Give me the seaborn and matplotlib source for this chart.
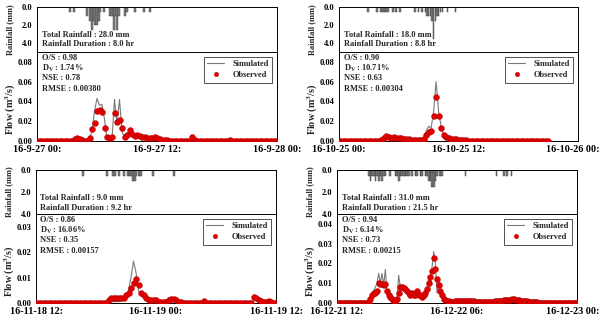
import numpy as np
import pandas as pd
import matplotlib
matplotlib.use("Agg")
import matplotlib.pyplot as plt
import matplotlib.transforms as mtrans
import seaborn as sns
from matplotlib.lines import Line2D

# ---------------- DATA ----------------
# Panel 1: 16-9-27 (15-min steps from 00:00)
obs1 = [0, 0, 0, 0, 0, 0, 0, 0, 0, 0, 0, 0, 0, 0, 0,
        0.002, 0.003, 0.002, 0.001, 0.0005, 0.0005, 0.003, 0.012, 0.018, 0.030, 0.031, 0.029, 0.013,
        0.004, 0.003, 0.004, 0.028, 0.019, 0.021, 0.013, 0.004, 0.006, 0.011, 0.007, 0.005, 0.006,
        0.005, 0.004, 0.004, 0.003, 0.003, 0.003, 0.004, 0.003, 0.002, 0.001, 0.001, 0.001, 0.0005,
        0, 0, 0, 0, 0, 0, 0, 0, 0.004, 0.001,
        0, 0, 0, 0, 0, 0, 0, 0, 0, 0, 0, 0, 0, 0.001,
        0, 0, 0, 0, 0, 0, 0, 0, 0, 0, 0, 0, 0, 0, 0.0005, 0, 0, 0, 0]
sim1 = [0, 0, 0, 0, 0, 0, 0, 0, 0, 0, 0, 0, 0, 0, 0,
        0.002, 0.003, 0.001, 0.0005, 0, 0, 0.002, 0.010, 0.030, 0.043, 0.036, 0.037, 0.022,
        0.002, 0.001, 0.002, 0.042, 0.017, 0.042, 0.010, 0.003, 0.006, 0.012, 0.006, 0.004, 0.006,
        0.005, 0.004, 0.003, 0.003, 0.003, 0.003, 0.004, 0.003, 0.002, 0.001, 0.001, 0.001, 0.0005,
        0, 0, 0, 0, 0, 0, 0, 0, 0.004, 0.001,
        0, 0, 0, 0, 0, 0, 0, 0, 0, 0, 0, 0, 0, 0.001,
        0, 0, 0, 0, 0, 0, 0, 0, 0, 0, 0, 0, 0, 0, 0.0005, 0, 0, 0, 0]
rain_t1 = [3.33, 3.67, 5.0, 5.33, 5.5, 5.67, 5.83, 6.0, 6.17, 6.33, 6.67, 7.33, 7.5, 7.67,
           7.83, 8.0, 8.17, 8.83, 9.0, 9.83, 10.67, 11.33]
rain_v1 = [0.5, 0.5, 1.0, 1.5, 2.5, 1.5, 2.0, 2.0, 1.5, 0.5, 0.5, 1.0, 1.0, 2.5,
           1.0, 2.5, 1.0, 1.0, 0.5, 0.5, 0.5, 0.5]

# Panel 2: 16-10-25
obs2 = [0, 0, 0, 0, 0, 0, 0, 0, 0, 0, 0, 0, 0, 0, 0, 0, 0,
        0.001, 0.003, 0.005, 0.004, 0.003, 0.004, 0.003, 0.003, 0.003, 0.002, 0.002, 0.002,
        0.001, 0.001, 0.001, 0.001, 0.001, 0.002, 0.006, 0.009, 0.010, 0.025, 0.044, 0.025,
        0.013, 0.006, 0.004, 0.003, 0.002, 0.002, 0.002, 0.001, 0.001, 0.001, 0.001, 0.0005, 0.0005,
        0, 0, 0, 0, 0, 0, 0, 0, 0, 0, 0, 0, 0, 0, 0, 0, 0, 0, 0, 0, 0, 0, 0, 0, 0, 0, 0, 0, 0, 0, 0]
sim2 = [0, 0, 0, 0, 0, 0, 0, 0, 0, 0, 0, 0, 0, 0, 0, 0, 0,
        0.001, 0.002, 0.004, 0.003, 0.003, 0.005, 0.003, 0.002, 0.002, 0.002, 0.001, 0.001,
        0.001, 0.0005, 0.0005, 0.001, 0.001, 0.003, 0.010, 0.015, 0.013, 0.030, 0.060, 0.030,
        0.015, 0.006, 0.004, 0.003, 0.002, 0.002, 0.001, 0.001, 0.001, 0.001, 0.0005, 0.0005, 0,
        0, 0, 0, 0, 0, 0, 0, 0, 0, 0, 0, 0, 0, 0, 0, 0, 0, 0, 0, 0, 0, 0, 0, 0, 0, 0, 0, 0, 0, 0, 0]
rain_t2 = [2.9, 3.8, 4.25, 4.4, 4.6, 4.75, 4.9, 5.4, 5.75, 6.1, 7.6, 8.0, 8.35, 8.7, 8.85,
           9.0, 9.2, 9.35, 9.5, 9.7, 9.85, 10.0, 10.2, 10.4, 10.9, 11.7]
rain_v2 = [0.5, 0.5, 0.5, 0.5, 0.5, 0.5, 0.5, 0.5, 0.5, 0.5, 0.5, 0.5, 0.5, 0.5, 1.0,
           1.0, 1.0, 1.5, 3.5, 1.5, 1.0, 1.0, 0.5, 0.5, 0.5, 0.5]

# Panel 3: 16-11-18 12:00
obs3 = [0, 0, 0, 0, 0, 0, 0, 0, 0, 0, 0, 0, 0, 0, 0, 0, 0, 0, 0, 0, 0, 0, 0, 0, 0, 0, 0, 0, 0,
        0.001, 0.002, 0.002, 0.002, 0.002, 0.002, 0.002, 0.003, 0.004, 0.006, 0.008, 0.0095,
        0.007, 0.004, 0.003, 0.002, 0.001, 0.001, 0.001, 0.001, 0.0005, 0.0005, 0.0005, 0.0005,
        0.0012, 0.0015, 0.0015, 0.001, 0.0005, 0.0003,
        0, 0, 0, 0, 0, 0, 0, 0, 0.0008,
        0, 0, 0, 0, 0, 0, 0, 0, 0, 0, 0, 0, 0, 0, 0, 0, 0, 0, 0,
        0.0025, 0.002, 0.001, 0.0008, 0.0003, 0.0003, 0.0008, 0.0003, 0, 0]
sim3 = [0, 0, 0, 0, 0, 0, 0, 0, 0, 0, 0, 0, 0, 0, 0, 0, 0, 0, 0, 0, 0, 0, 0, 0, 0, 0, 0, 0, 0,
        0.0005, 0.0005, 0.0005, 0.0005, 0.0005, 0.001, 0.001, 0.002, 0.005, 0.010, 0.0165, 0.012,
        0.005, 0.003, 0.002, 0.002, 0.0015, 0.001, 0.001, 0.0005, 0.0005, 0.0005, 0.001, 0.001,
        0.002, 0.002, 0.001, 0.0005, 0.0003, 0,
        0, 0, 0, 0, 0, 0, 0, 0, 0.0005,
        0, 0, 0, 0, 0, 0, 0, 0, 0, 0, 0, 0, 0, 0, 0, 0, 0, 0, 0,
        0.001, 0.001, 0.0005, 0.0005, 0, 0, 0.0005, 0, 0, 0]
rain_t3 = [4.67, 7.1, 7.67, 7.87, 8.27, 8.77, 9.17, 9.37, 9.53, 9.7, 9.87, 10.03, 10.27, 10.53,
           11.67, 13.77]
rain_v3 = [0.5, 0.5, 0.5, 0.5, 0.5, 0.5, 0.5, 0.5, 0.5, 1.0, 1.0, 0.5, 0.5, 0.5, 0.5, 0.5]

# Panel 4: 16-12-21 12:00 (36 h)
obs4 = [0, 0, 0, 0, 0, 0, 0, 0, 0, 0, 0, 0, 0, 0, 0, 0, 0, 0, 0,
        0.0005, 0.002, 0.004, 0.005, 0.005, 0.006, 0.010, 0.0095, 0.0095, 0.009, 0.0095, 0.006,
        0.004, 0.003, 0.002, 0.001, 0.0005, 0.002, 0.005, 0.008, 0.008, 0.0075, 0.007, 0.006,
        0.005, 0.004, 0.005, 0.004, 0.004, 0.006, 0.004, 0.004, 0.003, 0.004, 0.005, 0.007,
        0.010, 0.013, 0.016, 0.023, 0.017, 0.012, 0.009, 0.006, 0.004, 0.002, 0.0015, 0.001,
        0.0008, 0.0005, 0.0005, 0.0005, 0.0008, 0.001, 0.001, 0.001, 0.001, 0.001, 0.001, 0.001,
        0.001, 0.001, 0.0008, 0.0008, 0.0005, 0.0003, 0.0003, 0.0003, 0.0003, 0.0003, 0.0003,
        0.0003, 0.0003, 0.0003, 0.0005, 0.0005, 0.0008, 0.001, 0.001, 0.0012, 0.0012, 0.0013,
        0.0013, 0.0015, 0.0015, 0.0017, 0.0018, 0.0018, 0.0017, 0.0015, 0.0015, 0.0012, 0.001,
        0.001, 0.0008, 0.0008, 0.0006, 0.0005, 0.0005, 0.0004, 0.0003, 0.0003,
        0.0002, 0.0002, 0.0002, 0.0002, 0.0002, 0.0002, 0.0002, 0.0002, 0.0002, 0.0002, 0.0002,
        0.0002, 0.0002, 0.0002, 0.0002, 0.0002, 0.0002, 0.0002, 0.0002, 0.0002, 0.0002, 0.0002,
        0.0002, 0.0002]
sim4 = [0, 0, 0, 0, 0, 0, 0, 0, 0, 0, 0, 0, 0, 0, 0, 0, 0, 0, 0,
        0.0005, 0.002, 0.004, 0.006, 0.008, 0.010, 0.015, 0.010, 0.015, 0.009, 0.017, 0.005,
        0.003, 0.002, 0.001, 0.0005, 0.0005, 0.002, 0.014, 0.008, 0.008, 0.007, 0.006, 0.005,
        0.004, 0.003, 0.006, 0.004, 0.003, 0.006, 0.004, 0.003, 0.003, 0.004, 0.006, 0.008,
        0.012, 0.008, 0.018, 0.026, 0.020, 0.005, 0.012, 0.005, 0.003, 0.002, 0.001, 0.001,
        0.0005, 0.0005, 0.0008, 0.0008, 0.001, 0.0012, 0.0012, 0.001, 0.0012, 0.0012, 0.001, 0.001,
        0.0008, 0.0008, 0.0008, 0.0005, 0.0005, 0.0003, 0.0003, 0.0003, 0.0003, 0.0003, 0.0003,
        0.0003, 0.0003, 0.0005, 0.0008, 0.0008, 0.001, 0.0012, 0.0015, 0.0015, 0.0018, 0.0015,
        0.0018, 0.002, 0.0018, 0.002, 0.0022, 0.0018, 0.002, 0.0018, 0.0015, 0.0012, 0.001,
        0.001, 0.0008, 0.0008, 0.0006, 0.0005, 0.0005, 0.0004, 0.0003, 0.0003,
        0.0002, 0.0002, 0.0002, 0.0002, 0.0002, 0.0002, 0.0002, 0.0002, 0.0002, 0.0002, 0.0002,
        0.0002, 0.0002, 0.0002, 0.0002, 0.0002, 0.0002, 0.0002, 0.0002, 0.0002, 0.0002, 0.0002,
        0.0002, 0.0002]
rain_t4 = [4.75, 5.0, 5.25, 5.5, 5.75, 6.0, 6.25, 6.5, 6.75, 7.0, 7.25, 7.9, 8.75, 9.0, 9.25,
           9.5, 9.75, 10.0, 10.25, 10.5, 10.75, 11.25, 11.75, 12.0, 12.5, 12.75, 13.25, 13.5,
           13.75, 14.0, 14.25, 14.5, 14.75, 15.0, 15.4, 15.75, 19.25, 23.9, 25.0, 25.5, 26.15]
rain_v4 = [0.5, 1.0, 0.5, 0.5, 1.0, 0.5, 1.0, 0.5, 1.0, 0.5, 0.5, 0.5, 0.5, 0.5, 1.0,
           0.5, 0.5, 0.5, 0.5, 0.5, 0.5, 0.5, 0.5, 0.5, 0.5, 0.5, 0.5, 0.5,
           1.0, 1.0, 1.5, 1.5, 1.0, 0.5, 0.5, 0.5, 0.5, 0.5, 0.5, 0.5, 0.5]

xlabels1 = ["16-9-27 00:", "16-9-27 12:", "16-9-28 00:"]
xlabels2 = ["16-10-25 00:", "16-10-25 12:", "16-10-26 00:"]
xlabels3 = ["16-11-18 12:", "16-11-19 00:", "16-11-19 12:"]
xlabels4 = ["16-12-21 12:", "16-12-22 06:", "16-12-23 00:"]

rain_text1 = ["Total Rainfall : 28.0 mm", "Rainfall Duration : 8.0 hr"]
rain_text2 = ["Total Rainfall : 18.0 mm", "Rainfall Duration : 8.8 hr"]
rain_text3 = ["Total Rainfall : 9.0 mm", "Rainfall Duration : 9.2 hr"]
rain_text4 = ["Total Rainfall : 31.0 mm", "Rainfall Duration : 21.5 hr"]

stats1 = ["O/S : 0.98", r"D$_{\rm V}$ : 1.74%", "NSE : 0.78", "RMSE : 0.00380"]
stats2 = ["O/S : 0.90", r"D$_{\rm V}$ : 10.71%", "NSE : 0.63", "RMSE : 0.00304"]
stats3 = ["O/S : 0.86", r"D$_{\rm V}$ : 16.06%", "NSE : 0.35", "RMSE : 0.00157"]
stats4 = ["O/S : 0.94", r"D$_{\rm V}$ : 6.14%", "NSE : 0.73", "RMSE : 0.00215"]

# ---------------- STYLE ----------------
sns.set_theme(style="white")
plt.rcParams["font.family"] = ["Liberation Serif", "DejaVu Serif"]
plt.rcParams["font.weight"] = "bold"
plt.rcParams["mathtext.fontset"] = "custom"
plt.rcParams["mathtext.rm"] = "Liberation Serif:bold"
plt.rcParams["mathtext.it"] = "Liberation Serif:bold"
plt.rcParams["mathtext.bf"] = "Liberation Serif:bold"

W, H = 600, 322
fig = plt.figure(figsize=(6.0, 3.22), dpi=100)
FS = 6.0
XFS = 7.3


def rect(l, r, top, bot):
    return [l / W, 1 - bot / H, (r - l) / W, (bot - top) / H]


def style_axes(ax):
    for s in ax.spines.values():
        s.set_color("black")
        s.set_linewidth(0.7)
    ax.tick_params(axis="both", direction="out", length=2, width=0.6, labelsize=FS, pad=1.5,
                   colors="black")
    ax.grid(False)


def panel(l, r, rtop, mid, fbot, rain_t, rain_v, rain_w, rain_max, obs, sim, fmax, fticks,
          xmax, xlabels):
    axr = fig.add_axes(rect(l, r, rtop, mid))
    axr.bar(rain_t, rain_v, width=rain_w, color="#808080", edgecolor="#333333", linewidth=0.3)
    axr.set_ylim(rain_max, 0)
    axr.set_xlim(0, xmax)
    axr.set_yticks([0, 2, 4])
    axr.set_yticklabels(["0.0", "2.0", "4.0"])
    axr.set_xticks([])
    style_axes(axr)

    axf = fig.add_axes(rect(l, r, mid, fbot))
    t = np.arange(len(obs)) * 0.25
    df = pd.DataFrame({"t": t, "obs": obs, "sim": sim})
    sns.lineplot(data=df, x="t", y="sim", ax=axf, color="#7a7a7a", linewidth=0.8)
    sns.scatterplot(data=df, x="t", y="obs", ax=axf, color="#e00000", s=18,
                    edgecolor="#b00000", linewidth=0.3, zorder=3)
    axf.set_xlim(0, xmax)
    axf.set_ylim(0, fmax)
    axf.set_yticks(fticks)
    axf.set_yticklabels(["%.2f" % v for v in fticks])
    axf.set_xticks([0, xmax / 2, xmax])
    axf.set_xticklabels(xlabels)
    axf.set_xlabel("")
    axf.set_ylabel("")
    style_axes(axf)
    axf.tick_params(axis="x", pad=1.0, labelsize=XFS)
    # keep the right-most date label inside the figure
    if r > 500:
        lab = axf.get_xticklabels()[-1]
        lab.set_horizontalalignment("right")
        lab.set_transform(lab.get_transform() +
                          mtrans.ScaledTranslation((W - 1 - r) / 100, 0, fig.dpi_scale_trans))

    handles = [Line2D([], [], color="#7a7a7a", lw=0.8),
               Line2D([], [], color="#e00000", marker="o", ls="", markersize=3.2,
                      markeredgecolor="#b00000", markeredgewidth=0.3)]
    leg = axf.legend(handles, ["Simulated", "Observed"], loc="upper right",
                     bbox_to_anchor=(1 - 5 / (r - l), 1 - 5 / (fbot - mid)), borderaxespad=0,
                     fontsize=FS, frameon=True, fancybox=False, edgecolor="black",
                     handlelength=2.0, handletextpad=1.0, borderpad=0.4, labelspacing=0.35)
    leg.get_frame().set_linewidth(0.6)
    return axr, axf


layout = [
    dict(l=37, r=277, rtop=7, mid=52, fbot=141, rain_t=rain_t1, rain_v=rain_v1, rain_w=1 / 6,
         rain_max=5, obs=obs1, sim=sim1, fmax=0.09, fticks=[0, 0.02, 0.04, 0.06, 0.08], xmax=24,
         xlabels=xlabels1),
    dict(l=339, r=578, rtop=7, mid=52, fbot=141, rain_t=rain_t2, rain_v=rain_v2, rain_w=1 / 6,
         rain_max=5, obs=obs2, sim=sim2, fmax=0.09, fticks=[0, 0.02, 0.04, 0.06, 0.08], xmax=24,
         xlabels=xlabels2),
    dict(l=36, r=276, rtop=170, mid=214, fbot=303, rain_t=rain_t3, rain_v=rain_v3, rain_w=1 / 6,
         rain_max=4, obs=obs3, sim=sim3, fmax=0.035, fticks=[0, 0.01, 0.02, 0.03], xmax=24,
         xlabels=xlabels3),
    dict(l=337, r=577, rtop=170, mid=214, fbot=303, rain_t=rain_t4, rain_v=rain_v4, rain_w=0.25,
         rain_max=4, obs=obs4, sim=sim4, fmax=0.045, fticks=[0, 0.01, 0.02, 0.03, 0.04], xmax=36,
         xlabels=xlabels4),
]
texts = [(rain_text1, stats1), (rain_text2, stats2), (rain_text3, stats3), (rain_text4, stats4)]

for p, (rtext, stats) in zip(layout, texts):
    panel(**p)
    l, rtop, mid, fbot = p["l"], p["rtop"], p["mid"], p["fbot"]
    for k, s in enumerate(rtext):
        fig.text((l + 4.5) / W, 1 - (rtop + 28 + 9.5 * k) / H, s, fontsize=FS, fontweight="bold",
                 ha="left", va="center")
    for k, s in enumerate(stats):
        fig.text((l + 4.5) / W, 1 - (mid + 5.5 + 10.5 * k) / H, s, fontsize=FS,
                 fontweight="bold", ha="left", va="center")
    fig.text((l - 27) / W, 1 - (rtop + mid) / 2 / H, "Rainfall (mm)", rotation=90, fontsize=FS,
             fontweight="bold", ha="center", va="center")
    fig.text((l - 27) / W, 1 - (mid + 57) / H, r"Flow (m$^{3}$/s)", rotation=90, fontsize=7.3,
             fontweight="bold", ha="center", va="center")

fig.savefig("out.png", dpi=100, facecolor="white")
